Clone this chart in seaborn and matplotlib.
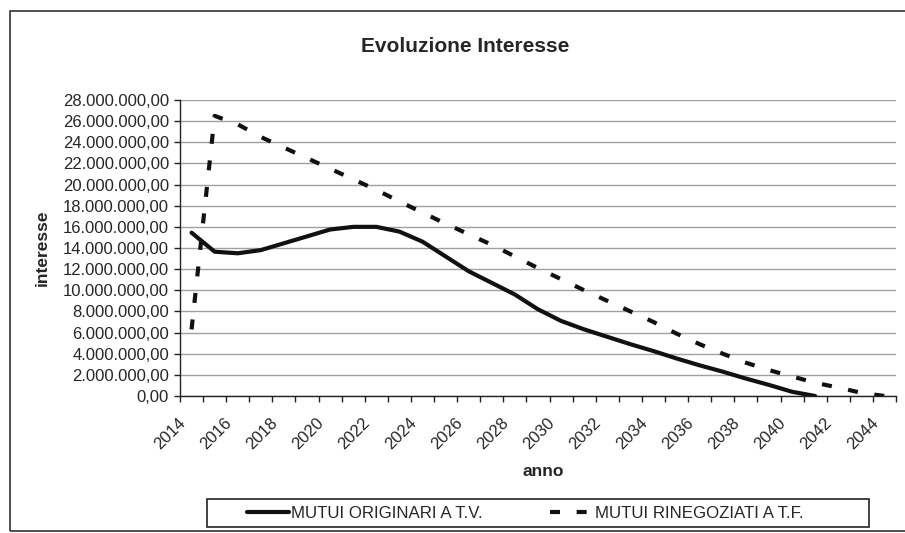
import numpy as np
import matplotlib
matplotlib.use("Agg")
import matplotlib.pyplot as plt
import matplotlib.transforms as mtransforms
from matplotlib.patches import Rectangle
from matplotlib.ticker import FuncFormatter, MultipleLocator
import seaborn as sns

# anni (categorie asse x)
anni = [2014, 2015, 2016, 2017, 2018, 2019, 2020, 2021, 2022, 2023, 2024,
        2025, 2026, 2027, 2028, 2029, 2030, 2031, 2032, 2033, 2034, 2035,
        2036, 2037, 2038, 2039, 2040, 2041, 2042, 2043, 2044]

# interessi mutui originari a tasso variabile (fino al 2041)
interesse_tv = [15.45e6, 13.65e6, 13.5e6, 13.8e6, 14.45e6, 15.1e6, 15.75e6,
                16.0e6, 16.0e6, 15.55e6, 14.6e6, 13.2e6, 11.8e6, 10.7e6,
                9.6e6, 8.2e6, 7.1e6, 6.3e6, 5.6e6, 4.9e6, 4.25e6, 3.55e6,
                2.9e6, 2.3e6, 1.65e6, 1.05e6, 0.4e6, 0.0,
                np.nan, np.nan, np.nan]

# interessi mutui rinegoziati a tasso fisso
interesse_tf = [6.3e6, 26.5e6, 25.7e6, 24.5e6, 23.5e6, 22.5e6, 21.5e6,
                20.5e6, 19.5e6, 18.4e6, 17.35e6, 16.3e6, 15.3e6, 14.3e6,
                13.2e6, 12.1e6, 11.05e6, 10.0e6, 9.0e6, 8.0e6, 7.0e6, 5.9e6,
                4.9e6, 4.0e6, 3.15e6, 2.45e6, 1.85e6, 1.25e6, 0.8e6, 0.3e6,
                0.0]

etichette = ["MUTUI ORIGINARI A T.V.", "MUTUI RINEGOZIATI A T.F."]

sns.set_style("white")
plt.rcParams['font.family'] = ['Liberation Sans', 'DejaVu Sans']

W, H = 905, 533
fig = plt.figure(figsize=(W / 100, H / 100), dpi=100)
ax = fig.add_axes([180 / W, 1 - 396 / H, 716 / W, 296 / H])

sns.lineplot(x=anni, y=interesse_tv, ax=ax, color="#111111", linewidth=3,
             label=etichette[0])
sns.lineplot(x=anni, y=interesse_tf, ax=ax, color="#111111", linewidth=3,
             linestyle=(0, (2.4, 4.0)), label=etichette[1])

ax.set_xlim(2013.5, 2044.5)
ax.set_ylim(0, 28e6)

# griglia orizzontale
ax.yaxis.set_major_locator(MultipleLocator(2e6))
ax.grid(axis="y", color="#a0a0a0", linewidth=1)
ax.grid(axis="x", visible=False)
ax.set_axisbelow(True)


def fmt_it(v, pos):
    s = f"{v:,.2f}"
    return s.replace(",", "X").replace(".", ",").replace("X", ".")


ax.yaxis.set_major_formatter(FuncFormatter(fmt_it))
ax.tick_params(axis="y", which="major", length=4, width=1, direction="out",
               color="#222222", labelsize=12, pad=4, left=True)

# etichette anni ogni due, tacche tra le categorie
ax.set_xticks(anni[::2])
ax.set_xticklabels([str(a) for a in anni[::2]])
ax.set_xticks([a - 0.5 for a in anni] + [anni[-1] + 0.5], minor=True)
ax.tick_params(axis="x", which="major", length=0, labelsize=12, pad=14,
               bottom=True)
ax.tick_params(axis="x", which="minor", length=4, width=1, direction="out",
               color="#222222", bottom=True)
offset = mtransforms.ScaledTranslation(-0.14, 0, fig.dpi_scale_trans)
for lab in ax.get_xticklabels():
    lab.set_rotation(45)
    lab.set_ha("right")
    lab.set_va("top")
    lab.set_rotation_mode("anchor")
    lab.set_transform(lab.get_transform() + offset)

for side in ["top", "right"]:
    ax.spines[side].set_visible(False)
for side in ["left", "bottom"]:
    ax.spines[side].set_color("#222222")
    ax.spines[side].set_linewidth(1)

ax.set_xlabel("anno", fontsize=12.5, fontweight="bold")
ax.set_ylabel("interesse", fontsize=12.5, fontweight="bold")
ax.yaxis.set_label_coords((42 - 180) / 716, 0.5)
ax.yaxis.label.set_va("center")
ax.xaxis.set_label_coords((543 - 180) / 716, (396 - 471) / 296)
ax.xaxis.label.set_va("center")

fig.text(465 / W, 1 - 46 / H, "Evoluzione Interesse", ha="center",
         va="center", fontsize=15, fontweight="bold")

# legenda
handles, labels = ax.get_legend_handles_labels()
ax.get_legend().remove()
fig.legend(handles, labels, loc="center left", ncol=2, frameon=False,
           bbox_to_anchor=(247 / W, 1 - 513 / H), fontsize=12.2,
           borderpad=0, borderaxespad=0,
           handlelength=2.5, handletextpad=0.1, columnspacing=4.0)
fig.patches.append(Rectangle((207 / W, 1 - 527 / H), 662 / W, 28 / H,
                             transform=fig.transFigure, fill=False,
                             edgecolor="#222222", linewidth=1.2))

# cornice dell'area grafico
fig.patches.append(Rectangle((10 / W, 1 - 531 / H), 1.0, 520 / H,
                             transform=fig.transFigure, fill=False,
                             edgecolor="#333333", linewidth=1.2))

fig.savefig("out.png", dpi=100, facecolor="white")
